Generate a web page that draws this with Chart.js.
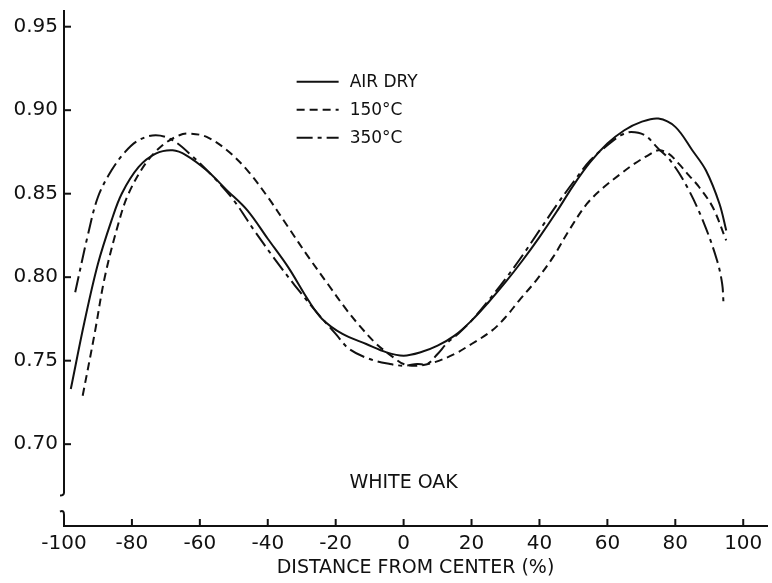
<!DOCTYPE html>
<html>
<head>
<meta charset="utf-8">
<script src="https://cdn.jsdelivr.net/npm/chart.js@4.4.1/dist/chart.umd.min.js"></script>
<style>
  html, body { margin: 0; padding: 0; background: #fff; }
  #wrap { width: 772px; height: 583px; }
</style>
</head>
<body>
<div id="wrap"><canvas id="chart" width="772" height="583"></canvas></div>
<script>
// values
const seriesNames = ['AIR DRY', '150\u00b0C', '350\u00b0C'];

const airDryX = [-98, -94, -90, -86, -83, -78, -73, -68, -64, -58, -52, -46, -40, -34, -28, -24, -18, -11, -5, 0, 5, 10, 15, 20, 25, 30, 35, 40, 45, 50, 55, 60, 65, 70, 75, 80, 85, 89, 93, 95];
const airDryY = [0.733, 0.773, 0.808, 0.834, 0.850, 0.866, 0.874, 0.876, 0.873, 0.864, 0.852, 0.840, 0.823, 0.806, 0.786, 0.775, 0.766, 0.760, 0.755, 0.753, 0.755, 0.759, 0.765, 0.774, 0.785, 0.797, 0.810, 0.824, 0.839, 0.855, 0.869, 0.880, 0.888, 0.893, 0.895, 0.890, 0.876, 0.864, 0.844, 0.828];

const dry150X = [-94.5, -91, -88, -84, -81, -76, -71, -66, -63, -58, -52, -46, -40, -34, -28, -22, -17, -13, -8, -3, 0, 4, 9, 15, 20, 26, 30, 34, 39, 44, 49, 54, 59, 64, 68, 72, 75, 78, 81, 84, 87, 91, 95];
const dry150Y = [0.729, 0.766, 0.800, 0.832, 0.850, 0.868, 0.879, 0.885, 0.886, 0.884, 0.876, 0.864, 0.848, 0.830, 0.812, 0.795, 0.781, 0.771, 0.760, 0.752, 0.748, 0.747, 0.749, 0.754, 0.760, 0.768, 0.776, 0.786, 0.798, 0.812, 0.829, 0.844, 0.854, 0.862, 0.868, 0.873, 0.876, 0.874, 0.868, 0.861, 0.854, 0.842, 0.822];

const dry350X = [-96.7, -93, -90, -86, -82, -78, -73, -68, -62, -56, -50, -44, -38, -32, -26, -20, -16, -10, -4, 0, 4, 7, 10, 13, 16, 20, 25, 30, 35, 40, 45, 50, 55, 60, 64, 67, 71, 75, 78.5, 83.5, 88.3, 92.3, 93.8, 94.2];
const dry350Y = [0.791, 0.825, 0.848, 0.864, 0.875, 0.882, 0.885, 0.882, 0.872, 0.860, 0.846, 0.828, 0.811, 0.795, 0.780, 0.766, 0.757, 0.751, 0.748, 0.747, 0.748, 0.748, 0.754, 0.761, 0.766, 0.774, 0.786, 0.799, 0.813, 0.828, 0.843, 0.857, 0.870, 0.879, 0.885, 0.887, 0.885, 0.877, 0.870, 0.854, 0.833, 0.810, 0.796, 0.784];

const xTicks = [-100, -80, -60, -40, -20, 0, 20, 40, 60, 80, 100];
const yTicks = [0.70, 0.75, 0.80, 0.85, 0.90, 0.95];

const toPoints = (xs, ys) => xs.map((x, i) => ({ x: x, y: ys[i] }));

const FONT = "'DejaVu Sans', 'Liberation Sans', sans-serif";
const INK = '#111';

// inward tick marks, y axis with a break, legend and inner caption
const decorPlugin = {
    id: 'decor',
    afterDraw(chart) {
        const ctx = chart.ctx;
        const xs = chart.scales.x;
        const ys = chart.scales.y;
        const area = chart.chartArea;
        ctx.save();
        ctx.strokeStyle = INK;
        ctx.fillStyle = INK;
        ctx.lineWidth = 2;

        // y axis line, broken near the bottom
        const left = area.left;
        const breakTop = ys.getPixelForValue(0.671);
        const breakBottom = ys.getPixelForValue(0.659);
        ctx.beginPath();
        ctx.moveTo(left, area.top);
        ctx.lineTo(left, breakTop);
        ctx.quadraticCurveTo(left, breakTop + 3, left - 4, breakTop + 3);
        ctx.stroke();
        ctx.beginPath();
        ctx.moveTo(left - 4, breakBottom - 1);
        ctx.quadraticCurveTo(left, breakBottom - 3, left, breakBottom + 2);
        ctx.lineTo(left, area.bottom);
        ctx.stroke();

        // tick marks pointing into the plot
        yTicks.forEach(v => {
            const py = ys.getPixelForValue(v);
            ctx.beginPath();
            ctx.moveTo(left, py);
            ctx.lineTo(left + 7, py);
            ctx.stroke();
        });
        xTicks.forEach(v => {
            const px = xs.getPixelForValue(v);
            ctx.beginPath();
            ctx.moveTo(px, area.bottom);
            ctx.lineTo(px, area.bottom - 7);
            ctx.stroke();
        });

        // legend
        const lx = xs.getPixelForValue(-31.5);
        const ly = ys.getPixelForValue(0.917);
        ctx.font = '17px ' + FONT;
        ctx.textBaseline = 'middle';
        chart.data.datasets.forEach((ds, i) => {
            const y = ly + i * 28;
            ctx.setLineDash(ds.borderDash || []);
            ctx.lineWidth = ds.borderWidth;
            ctx.beginPath();
            ctx.moveTo(lx, y);
            ctx.lineTo(lx + 42, y);
            ctx.stroke();
            ctx.setLineDash([]);
            ctx.fillText(ds.label, lx + 53, y + 1);
        });

        // caption inside the plot
        ctx.font = '19px ' + FONT;
        ctx.textAlign = 'center';
        ctx.fillText('WHITE OAK', xs.getPixelForValue(0), ys.getPixelForValue(0.677));
        ctx.restore();
    }
};

new Chart(document.getElementById('chart'), {
    type: 'line',
    data: {
        datasets: [
            { label: seriesNames[0], data: toPoints(airDryX, airDryY), borderColor: INK, borderWidth: 2, borderDash: [] },
            { label: seriesNames[1], data: toPoints(dry150X, dry150Y), borderColor: INK, borderWidth: 2, borderDash: [8, 5] },
            { label: seriesNames[2], data: toPoints(dry350X, dry350Y), borderColor: INK, borderWidth: 2, borderDash: [16, 5, 4, 5] }
        ]
    },
    options: {
        responsive: false,
        animation: false,
        events: [],
        layout: { padding: { top: 10, right: 5, left: 0, bottom: 0 } },
        elements: {
            point: { radius: 0 },
            line: { tension: 0.35, fill: false }
        },
        plugins: {
            legend: { display: false },
            tooltip: { enabled: false }
        },
        scales: {
            x: {
                type: 'linear',
                min: -100,
                max: 107,
                afterBuildTicks: s => { s.ticks = xTicks.map(v => ({ value: v })); },
                afterFit: s => { s.height = 57; },
                grid: { display: false, drawTicks: false },
                border: { display: true, color: INK, width: 2 },
                ticks: {
                    color: INK,
                    padding: 6,
                    font: { family: FONT, size: 20 },
                    maxRotation: 0,
                    autoSkip: false,
                    callback: v => String(v)
                },
                title: {
                    display: true,
                    text: 'DISTANCE FROM CENTER (%)',
                    color: INK,
                    font: { family: FONT, size: 19 },
                    padding: { top: 0, bottom: 4 }
                }
            },
            y: {
                type: 'linear',
                min: 0.651,
                max: 0.96,
                afterBuildTicks: s => { s.ticks = yTicks.map(v => ({ value: v })); },
                afterFit: s => { s.width = 64; s.paddingTop = 0; s.paddingBottom = 0; },
                grid: { display: false, drawTicks: false },
                border: { display: false },
                ticks: {
                    color: INK,
                    padding: 6,
                    font: { family: FONT, size: 20 },
                    callback: v => v.toFixed(2)
                }
            }
        }
    },
    plugins: [decorPlugin]
});
</script>
</body>
</html>
